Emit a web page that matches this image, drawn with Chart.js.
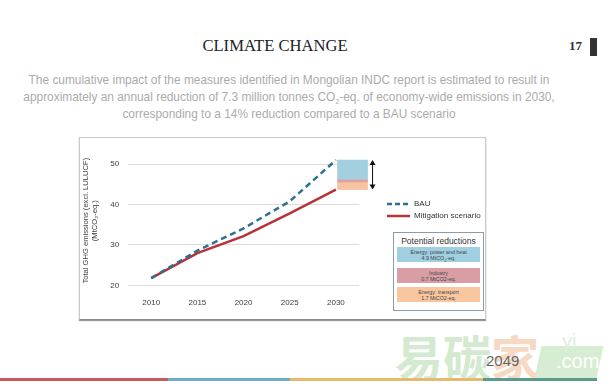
<!DOCTYPE html>
<html>
<head>
<meta charset="utf-8">
<script src="https://cdn.jsdelivr.net/npm/chart.js@4.4.1/dist/chart.umd.min.js"></script>
<style>
    body { margin: 0; width: 610px; height: 387px; background: #fff; position: relative; overflow: hidden; font-family: "Liberation Sans", Arial, sans-serif; }
    .abs { position: absolute; }
    #title { left: 0; width: 550px; top: 36px; text-align: center; font-family: "Liberation Serif", "Times New Roman", serif; font-size: 16.6px; color: #222; }
    #page { left: 569px; top: 38px; font-family: "Liberation Serif", serif; font-weight: bold; font-size: 13px; color: #333; }
    #pagebar { left: 590px; top: 38px; width: 7px; height: 18px; background: #333; }
    .sub { left: 0; width: 578px; text-align: center; white-space: nowrap; font-size: 11.9px; color: #ababab; }
    #box { left: 79px; top: 137px; width: 405px; height: 181px; border: 1px solid #c9c9c9; border-bottom-color: #8a8a8a; box-shadow: 0 1px 1px #999; }
    #wrap { left: 79px; top: 137px; width: 407px; height: 183px; }
    #red { left: 393px; top: 232px; width: 89px; height: 77px; border: 1px solid #8c9ba5; background: #fff; }
    #red .hd { position: absolute; left: 0; width: 89px; top: 3px; text-align: center; font-size: 8.5px; color: #333; }
    #red .band { position: absolute; left: 3px; width: 83px; height: 15px; text-align: center; font-size: 5.3px; line-height: 6px; color: #444; padding-top: 2px; box-sizing: border-box; }
    .stripe { top: 378px; height: 3px; }
    .wm { font-family: "Noto Sans CJK SC", sans-serif; font-weight: bold; }
</style>
</head>
<body>
<div id="title" class="abs">CLIMATE CHANGE</div>
<div id="page" class="abs">17</div>
<div id="pagebar" class="abs"></div>
<div class="abs sub" style="top:73px">The cumulative impact of the measures identified in Mongolian INDC report is estimated to result in</div>
<div class="abs sub" style="top:90px">approximately an annual reduction of 7.3 million tonnes CO<sub style="font-size:7px">2</sub>-eq. of economy-wide emissions in 2030,</div>
<div class="abs sub" style="top:107px">corresponding to a 14% reduction compared to a BAU scenario</div>

<div id="box" class="abs"></div>
<div id="wrap" class="abs"><canvas id="ghgChart" width="407" height="183"></canvas></div>
<div id="red" class="abs">
    <div class="hd">Potential reductions</div>
    <div class="band" style="top:14px;background:#9fcfe1">Energy: power and heat<br>4.9 MtCO<sub style="font-size:4px">2</sub>-eq.</div>
    <div class="band" style="top:35px;background:#d99ea5">Industry<br>0.7 MtCO2-eq.</div>
    <div class="band" style="top:54px;background:#f8c69f">Energy: transport<br>1.7 MtCO2-eq.</div>
</div>

<!-- vodeni zig dole desno -->
<div class="abs" style="left:538px;top:346px;width:62px;height:32px;background:#d7edd3;transform:skewX(-12deg);"></div>
<div class="abs wm" style="left:395px;top:320px;font-size:48px;color:#d3ead0;">易碳<span style="color:#f7d8c2">家</span></div>
<div class="abs" style="left:562px;top:330px;font-size:20px;color:#dcefd9;">yi</div>
<div class="abs" style="left:556px;top:350px;font-size:20px;color:#fff;">.com</div>
<div class="abs" style="left:486px;top:352px;font-size:15px;color:#666;">2049</div>

<div class="abs stripe" style="left:0;width:168px;background:#c9585f"></div>
<div class="abs stripe" style="left:168px;width:122px;background:#6cabc9"></div>
<div class="abs stripe" style="left:290px;width:193px;background:#e6b96c"></div>
<div class="abs stripe" style="left:483px;width:114px;background:#5b9b8b"></div>

<script>
// podaci ocitani sa slike
const years = [2010, 2015, 2020, 2025, 2030];
const bauValues = [21.8, 28.6, 34.1, 40.8, 51.0];
const mitigationValues = [21.8, 28.0, 32.2, 37.8, 43.7];
const yTicks = [20, 30, 40, 50];
// smanjenja u 2030, odozdo na gore: transport, industrija, energija
const reductionNames = ['Energy: transport', 'Industry', 'Energy: power and heat'];
const reductionValues = [1.7, 0.7, 4.9];
const reductionColors = ['#f8c3a0', '#e2a19f', '#a2d0e0'];

const barX = 2031.8;

// stubici smanjenja, naslagani od kraja scenarija ublazavanja
let base = mitigationValues[mitigationValues.length - 1];
const barSets = reductionValues.map((v, i) => {
    const lo = base;
    base = base + v;
    return {
        type: 'bar',
        label: reductionNames[i],
        data: [{ x: barX, y: [lo, base] }],
        backgroundColor: reductionColors[i],
        borderWidth: 0,
        barThickness: 30,
        grouped: false,
        clip: false
    };
});

const extras = {
    id: 'extras',
    afterDatasetsDraw(chart) {
        const ctx = chart.ctx;
        const xs = chart.scales.x, ys = chart.scales.y;
        // strelica izmedju BAU i ublazavanja
        const ax = xs.getPixelForValue(barX) + 20;
        const y1 = ys.getPixelForValue(bauValues[bauValues.length - 1]);
        const y2 = ys.getPixelForValue(mitigationValues[mitigationValues.length - 1]);
        ctx.save();
        ctx.strokeStyle = '#111';
        ctx.fillStyle = '#111';
        ctx.lineWidth = 1;
        ctx.beginPath();
        ctx.moveTo(ax, y1 + 3);
        ctx.lineTo(ax, y2 - 3);
        ctx.stroke();
        ctx.beginPath();
        ctx.moveTo(ax, y1); ctx.lineTo(ax - 3, y1 + 5); ctx.lineTo(ax + 3, y1 + 5); ctx.closePath();
        ctx.fill();
        ctx.beginPath();
        ctx.moveTo(ax, y2); ctx.lineTo(ax - 3, y2 - 5); ctx.lineTo(ax + 3, y2 - 5); ctx.closePath();
        ctx.fill();

        // legenda
        ctx.font = '8px "Liberation Sans", sans-serif';
        ctx.textBaseline = 'middle';
        ctx.lineWidth = 2.5;
        ctx.strokeStyle = '#2f6f8f';
        ctx.setLineDash([5, 3]);
        ctx.beginPath(); ctx.moveTo(308, 67); ctx.lineTo(331, 67); ctx.stroke();
        ctx.setLineDash([]);
        ctx.strokeStyle = '#b73239';
        ctx.beginPath(); ctx.moveTo(308, 79); ctx.lineTo(331, 79); ctx.stroke();
        ctx.fillStyle = '#333';
        ctx.fillText('BAU', 335, 67);
        ctx.fillText('Mitigation scenario', 335, 79);
        ctx.restore();
    }
};

const ctxGhg = document.getElementById('ghgChart').getContext('2d');
new Chart(ctxGhg, {
    type: 'line',
    data: {
        datasets: [{
            label: 'BAU',
            data: years.map((y, i) => ({ x: y, y: bauValues[i] })),
            borderColor: '#2f6f8f',
            borderDash: [6, 4],
            borderWidth: 2.5,
            pointRadius: 0,
            tension: 0,
            clip: false
        }, {
            label: 'Mitigation scenario',
            data: years.map((y, i) => ({ x: y, y: mitigationValues[i] })),
            borderColor: '#b73239',
            borderWidth: 2.5,
            pointRadius: 0,
            tension: 0,
            clip: false
        }, ...barSets]
    },
    options: {
        responsive: false,
        animation: false,
        layout: { padding: { top: 19, left: 0, right: 127, bottom: 7 } },
        scales: {
            x: {
                type: 'linear',
                min: 2007.5,
                max: 2032.5,
                offset: false,
                afterBuildTicks: s => { s.ticks = years.map(v => ({ value: v })); },
                grid: { display: false },
                border: { display: false },
                ticks: {
                    color: '#404040',
                    font: { size: 8 },
                    padding: 5,
                    maxRotation: 0,
                    autoSkip: false,
                    callback: v => String(v)
                }
            },
            y: {
                min: 20,
                max: 52,
                afterBuildTicks: s => { s.ticks = yTicks.map(v => ({ value: v })); },
                grid: { color: '#dcdcdc', drawTicks: false },
                border: { display: false },
                ticks: { color: '#404040', font: { size: 8 }, padding: 9 },
                title: {
                    display: true,
                    text: ['Total GHG emissions (excl. LULUCF)', '(MtCO₂-eq.)'],
                    color: '#404040',
                    font: { size: 7.6 },
                    padding: 2
                }
            }
        },
        plugins: {
            legend: { display: false },
            tooltip: { enabled: false }
        }
    },
    plugins: [extras]
});
</script>
</body>
</html>
